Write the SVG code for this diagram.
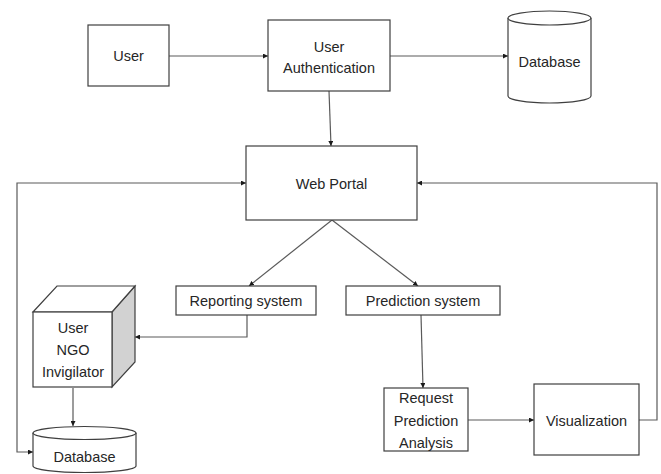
<svg xmlns="http://www.w3.org/2000/svg" width="661" height="474" viewBox="0 0 661 474">
<style>
  .box { fill: #ffffff; stroke: #3f3f3f; stroke-width: 1.2; }
  .line { fill: none; stroke: #5a5a5a; stroke-width: 1.2; }
  .txt { font-family: "Liberation Sans", Arial, sans-serif; font-size: 14.5px; fill: #262626; text-anchor: middle; }
</style>
<defs>
  <marker id="arr" viewBox="0 0 10 10" refX="10" refY="5" markerWidth="5" markerHeight="5" orient="auto-start-reverse" markerUnits="userSpaceOnUse">
    <path d="M0,0 L10,5 L0,10 z" fill="#1a1a1a"/>
  </marker>
</defs>
<rect width="661" height="474" fill="#ffffff"/>

<g id="connectors">
  <line class="line" x1="169" y1="56" x2="268" y2="56" marker-end="url(#arr)"/>
  <line class="line" x1="390" y1="56" x2="508" y2="56" marker-end="url(#arr)"/>
  <line class="line" x1="329" y1="91" x2="331" y2="146" marker-end="url(#arr)"/>
  <polyline class="line" points="33,452 17,452 17,183 246,183" marker-start="url(#arr)" marker-end="url(#arr)"/>
  <polyline class="line" points="639,420 657,420 657,183 417,183" marker-end="url(#arr)"/>
  <line class="line" x1="332" y1="220" x2="249" y2="286" marker-end="url(#arr)"/>
  <line class="line" x1="332" y1="220" x2="418" y2="286" marker-end="url(#arr)"/>
  <polyline class="line" points="247,315 247,337 135,337" marker-end="url(#arr)"/>
  <line class="line" x1="73" y1="388" x2="73" y2="426" marker-end="url(#arr)"/>
  <line class="line" x1="421" y1="315" x2="423" y2="388" marker-end="url(#arr)"/>
  <line class="line" x1="468" y1="420" x2="534" y2="420" marker-end="url(#arr)"/>
</g>

<g id="user">
  <rect class="box" x="88" y="25" width="81" height="61"/>
  <text class="txt" x="128.5" y="61">User</text>
</g>

<g id="user-authentication">
  <rect class="box" x="268" y="20" width="122" height="71"/>
  <text class="txt" x="329" y="52">User</text>
  <text class="txt" x="329" y="73">Authentication</text>
</g>

<g id="database-top">
  <path class="box" d="M508,18 L508,96 A41.5,7 0 0 0 591,96 L591,18"/>
  <ellipse class="box" cx="549.5" cy="18" rx="41.5" ry="7"/>
  <text class="txt" x="549.5" y="67">Database</text>
</g>

<g id="web-portal">
  <rect class="box" x="246" y="146" width="171" height="74"/>
  <text class="txt" x="331.5" y="188.5">Web Portal</text>
</g>

<g id="reporting-system">
  <rect class="box" x="176" y="286" width="140" height="29"/>
  <text class="txt" x="246" y="305.5">Reporting system</text>
</g>

<g id="prediction-system">
  <rect class="box" x="346" y="286" width="154" height="29"/>
  <text class="txt" x="423" y="305.5">Prediction system</text>
</g>

<g id="user-ngo-invigilator">
  <polygon points="112,312 135,286 135,362 112,387" fill="#d2d2d2" stroke="#3f3f3f" stroke-width="1.2"/>
  <polygon points="33,312 57,286 135,286 112,312" fill="#ffffff" stroke="#3f3f3f" stroke-width="1.2"/>
  <rect class="box" x="33" y="312" width="79" height="75"/>
  <text class="txt" x="73" y="333">User</text>
  <text class="txt" x="73" y="355">NGO</text>
  <text class="txt" x="73" y="377">Invigilator</text>
</g>

<g id="database-bottom">
  <path class="box" d="M33,433 L33,466 A51.5,6.5 0 0 0 136,466 L136,433"/>
  <ellipse class="box" cx="84.5" cy="433" rx="51.5" ry="6.5"/>
  <text class="txt" x="84.5" y="462">Database</text>
</g>

<g id="request-prediction-analysis">
  <rect class="box" x="384" y="388" width="84" height="63"/>
  <text class="txt" x="426" y="403">Request</text>
  <text class="txt" x="426" y="426">Prediction</text>
  <text class="txt" x="426" y="448">Analysis</text>
</g>

<g id="visualization">
  <rect class="box" x="534" y="384" width="105" height="71"/>
  <text class="txt" x="586.5" y="426">Visualization</text>
</g>
</svg>
